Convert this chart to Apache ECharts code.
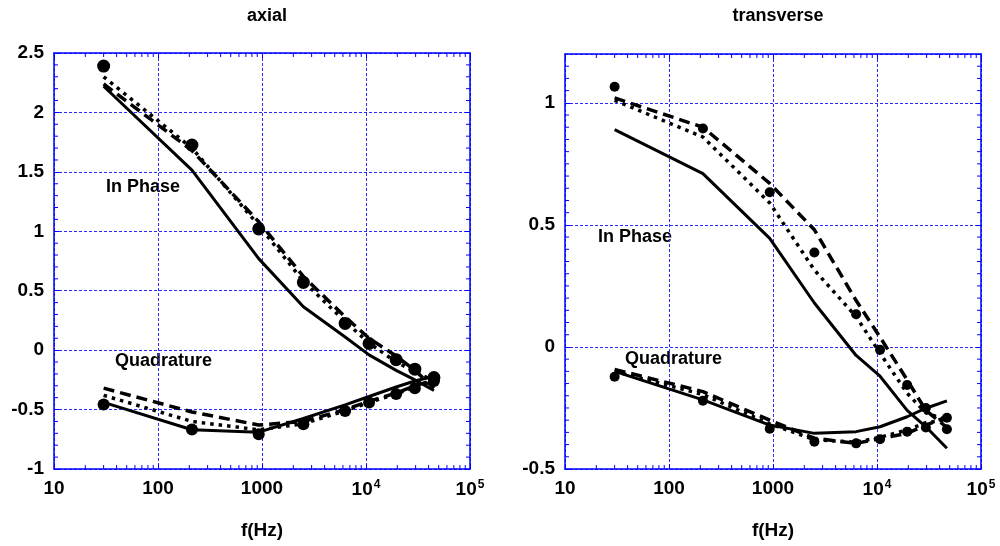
<!DOCTYPE html>
<html>
<head>
<meta charset="utf-8">
<script src="https://cdn.jsdelivr.net/npm/echarts@6/dist/echarts.min.js"></script>
<style>
  html, body { margin: 0; padding: 0; background: #fff; }
  #chart { width: 1000px; height: 546px; }
</style>
</head>
<body>
<div id="chart"></div>
<script>
// Frequencies (Hz) of the measured / computed points
const freqAxial = [30, 212, 930, 2500, 6300, 10700, 19500, 29500, 45000];
const freqTrans = [30, 212, 930, 2500, 6300, 10700, 19500, 29500, 47000];

// axial: in-phase component
const axialInPhaseMeas  = [2.39, 1.725, 1.02, 0.57, 0.225, 0.056, -0.08, -0.16, -0.23];
const axialInPhaseSolid = [2.22, 1.515, 0.77, 0.365, 0.11, -0.04, -0.17, -0.25, -0.34];
const axialInPhaseDash  = [2.24, 1.68, 1.08, 0.62, 0.28, 0.10, -0.05, -0.17, -0.32];
const axialInPhaseDot   = [2.30, 1.70, 1.05, 0.58, 0.24, 0.06, -0.10, -0.18, -0.26];
// axial: quadrature component
const axialQuadMeas  = [-0.457, -0.668, -0.707, -0.623, -0.513, -0.44, -0.37, -0.32, -0.26];
const axialQuadSolid = [-0.44, -0.67, -0.69, -0.575, -0.46, -0.39, -0.31, -0.26, -0.22];
const axialQuadDash  = [-0.32, -0.52, -0.63, -0.60, -0.50, -0.43, -0.36, -0.30, -0.25];
const axialQuadDot   = [-0.38, -0.60, -0.67, -0.62, -0.51, -0.44, -0.37, -0.31, -0.26];

// transverse: in-phase component
const transInPhaseMeas  = [1.066, 0.895, 0.634, 0.387, 0.134, -0.012, -0.156, -0.25, -0.29];
const transInPhaseSolid = [0.89, 0.71, 0.445, 0.18, -0.035, -0.12, -0.26, -0.327, -0.415];
const transInPhaseDash  = [1.02, 0.90, 0.67, 0.48, 0.19, 0.04, -0.135, -0.26, -0.33];
const transInPhaseDot   = [1.01, 0.86, 0.59, 0.315, 0.124, -0.026, -0.19, -0.27, -0.30];
// transverse: quadrature component
const transQuadMeas  = [-0.122, -0.22, -0.335, -0.388, -0.395, -0.378, -0.347, -0.33, -0.337];
const transQuadSolid = [-0.10, -0.217, -0.32, -0.354, -0.347, -0.327, -0.286, -0.251, -0.221];
const transQuadDash  = [-0.092, -0.183, -0.30, -0.374, -0.395, -0.375, -0.354, -0.32, -0.286];
const transQuadDot   = [-0.10, -0.195, -0.315, -0.38, -0.39, -0.37, -0.34, -0.31, -0.30];

// Axis ranges and ticks
const xRange = [10, 100000];
const xTickLabels = { 10: '10', 100: '100', 1000: '1000', 10000: '10{sup|4}', 100000: '10{sup|5}' };
const xMinorTicks = [20, 30, 40, 50, 60, 70, 80, 90, 200, 300, 400, 500, 600, 700, 800, 900,
  2000, 3000, 4000, 5000, 6000, 7000, 8000, 9000, 20000, 30000, 40000, 50000, 60000, 70000, 80000, 90000];
const axialYRange = [-1, 2.5];
const transYRange = [-0.5, 1.2];
const yInterval = 0.5;
const axialYMinorStep = 0.1;
const transYMinorStep = 0.05;

const BLUE = '#0000ff';
const GRID_BLUE = '#2a2aff';
const FONT = 'Liberation Sans, Arial, sans-serif';

function pairs(xs, ys) { return xs.map((x, i) => [x, ys[i]]); }

function minorValues(range, step) {
  const out = [];
  const n = Math.round((range[1] - range[0]) / step);
  for (let i = 1; i < n; i++) {
    const v = +(range[0] + i * step).toFixed(4);
    if (Math.abs(v / yInterval - Math.round(v / yInterval)) > 1e-6) out.push(v);
  }
  return out;
}

// Minor tick marks drawn through the axes' own scales (inside, on all four sides)
function minorTickSeries(gi, yRange, yStep) {
  const yMid = (yRange[0] + yRange[1]) / 2;
  const data = xMinorTicks.map(v => [v, yMid, 0])
    .concat(minorValues(yRange, yStep).map(v => [1000, v, 1]));
  return {
    type: 'custom', xAxisIndex: gi * 2, yAxisIndex: gi * 2, silent: true, z: 1,
    data: data,
    renderItem: function (params, api) {
      const cs = params.coordSys;
      const p = api.coord([api.value(0), api.value(1)]);
      const L = 4;
      const st = { stroke: BLUE, lineWidth: 1 };
      if (api.value(2) === 0) {
        return { type: 'group', children: [
          { type: 'line', shape: { x1: p[0], y1: cs.y + cs.height, x2: p[0], y2: cs.y + cs.height - L }, style: st },
          { type: 'line', shape: { x1: p[0], y1: cs.y, x2: p[0], y2: cs.y + L }, style: st }
        ] };
      }
      return { type: 'group', children: [
        { type: 'line', shape: { x1: cs.x, y1: p[1], x2: cs.x + L, y2: p[1] }, style: st },
        { type: 'line', shape: { x1: cs.x + cs.width, y1: p[1], x2: cs.x + cs.width - L, y2: p[1] }, style: st }
      ] };
    }
  };
}

const gridLine = { show: true, lineStyle: { color: GRID_BLUE, type: [3, 2], width: 1, opacity: 1 } };

function xAxes(gi) {
  const bottom = {
    type: 'log', gridIndex: gi, min: xRange[0], max: xRange[1], logBase: 10, position: 'bottom',
    name: 'f(Hz)', nameLocation: 'middle', nameGap: 52,
    nameTextStyle: { fontFamily: FONT, fontWeight: 'bold', fontSize: 19, color: '#000' },
    axisLine: { show: true, onZero: false, lineStyle: { color: BLUE, width: 1.5 } },
    axisTick: { show: true, inside: true, length: 5, lineStyle: { color: BLUE } },
    splitLine: gridLine,
    axisLabel: {
      margin: 10, color: '#000', fontFamily: FONT, fontWeight: 'bold', fontSize: 19,
      formatter: v => xTickLabels[Math.round(v)] || '',
      rich: { sup: { fontFamily: FONT, fontWeight: 'bold', fontSize: 12, verticalAlign: 'top', padding: [0, 0, 10, 1], color: '#000' } }
    }
  };
  const top = {
    type: 'log', gridIndex: gi, min: xRange[0], max: xRange[1], logBase: 10, position: 'top',
    axisLine: { show: true, onZero: false, lineStyle: { color: BLUE, width: 1.5 } },
    axisTick: { show: true, inside: true, length: 5, lineStyle: { color: BLUE } },
    axisLabel: { show: false }, splitLine: { show: false }
  };
  return [bottom, top];
}

function yAxes(gi, range) {
  const left = {
    type: 'value', gridIndex: gi, min: range[0], max: range[1], interval: yInterval, position: 'left',
    axisLine: { show: true, onZero: false, lineStyle: { color: BLUE, width: 1.5 } },
    axisTick: { show: true, inside: true, length: 5, lineStyle: { color: BLUE } },
    splitLine: gridLine,
    axisLabel: {
      margin: 10, color: '#000', fontFamily: FONT, fontWeight: 'bold', fontSize: 19,
      showMaxLabel: range[1] % yInterval === 0,
      formatter: v => (Math.abs(v / yInterval - Math.round(v / yInterval)) < 1e-6 ? String(v) : '')
    }
  };
  const right = {
    type: 'value', gridIndex: gi, min: range[0], max: range[1], interval: yInterval, position: 'right',
    axisLine: { show: true, onZero: false, lineStyle: { color: BLUE, width: 1.5 } },
    axisTick: { show: true, inside: true, length: 5, lineStyle: { color: BLUE } },
    axisLabel: { show: false }, splitLine: { show: false }
  };
  return [left, right];
}

function lineSeries(gi, xs, ys, kind) {
  const styles = {
    solid: { type: 'solid', width: 3 },
    dash: { type: [11, 6], width: 3.5 },
    dot: { type: [3.5, 5], width: 3.5 }
  };
  return {
    type: 'line', xAxisIndex: gi * 2, yAxisIndex: gi * 2, data: pairs(xs, ys),
    showSymbol: false, symbol: 'none', silent: true, z: 3,
    lineStyle: Object.assign({ color: '#000', cap: 'butt', opacity: 1 }, styles[kind])
  };
}

function dotSeries(gi, xs, ys, size) {
  return {
    type: 'scatter', xAxisIndex: gi * 2, yAxisIndex: gi * 2, data: pairs(xs, ys),
    symbol: 'circle', symbolSize: size, silent: true, z: 4,
    itemStyle: { color: '#000', opacity: 1 }
  };
}

const grids = [
  { left: 54, top: 53, width: 416, height: 416 },
  { left: 565, top: 54, width: 416, height: 415 }
];

const textStyleBold = { fontFamily: FONT, fontWeight: 'bold', fontSize: 18, fill: '#000' };

const option = {
  backgroundColor: '#fff',
  animation: false,
  title: [
    { text: 'axial', left: 262, top: 2, textAlign: 'center',
      textStyle: { fontFamily: FONT, fontWeight: 'bold', fontSize: 18, color: '#000' } },
    { text: 'transverse', left: 773, top: 2, textAlign: 'center',
      textStyle: { fontFamily: FONT, fontWeight: 'bold', fontSize: 18, color: '#000' } }
  ],
  grid: grids,
  xAxis: xAxes(0).concat(xAxes(1)),
  yAxis: yAxes(0, axialYRange).concat(yAxes(1, transYRange)),
  graphic: [
    { type: 'text', left: 106, top: 178, style: Object.assign({ text: 'In Phase' }, textStyleBold) },
    { type: 'text', left: 115, top: 352, style: Object.assign({ text: 'Quadrature' }, textStyleBold) },
    { type: 'text', left: 598, top: 228, style: Object.assign({ text: 'In Phase' }, textStyleBold) },
    { type: 'text', left: 625, top: 350, style: Object.assign({ text: 'Quadrature' }, textStyleBold) }
  ],
  series: [
    minorTickSeries(0, axialYRange, axialYMinorStep),
    lineSeries(0, freqAxial, axialInPhaseSolid, 'solid'),
    lineSeries(0, freqAxial, axialInPhaseDash, 'dash'),
    lineSeries(0, freqAxial, axialInPhaseDot, 'dot'),
    dotSeries(0, freqAxial, axialInPhaseMeas, 13),
    lineSeries(0, freqAxial, axialQuadSolid, 'solid'),
    lineSeries(0, freqAxial, axialQuadDash, 'dash'),
    lineSeries(0, freqAxial, axialQuadDot, 'dot'),
    dotSeries(0, freqAxial, axialQuadMeas, 12),

    minorTickSeries(1, transYRange, transYMinorStep),
    lineSeries(1, freqTrans, transInPhaseSolid, 'solid'),
    lineSeries(1, freqTrans, transInPhaseDash, 'dash'),
    lineSeries(1, freqTrans, transInPhaseDot, 'dot'),
    dotSeries(1, freqTrans, transInPhaseMeas, 10),
    lineSeries(1, freqTrans, transQuadSolid, 'solid'),
    lineSeries(1, freqTrans, transQuadDash, 'dash'),
    lineSeries(1, freqTrans, transQuadDot, 'dot'),
    dotSeries(1, freqTrans, transQuadMeas, 10)
  ]
};

const chart = echarts.init(document.getElementById('chart'), null, { renderer: 'canvas' });
chart.setOption(option);
</script>
</body>
</html>
